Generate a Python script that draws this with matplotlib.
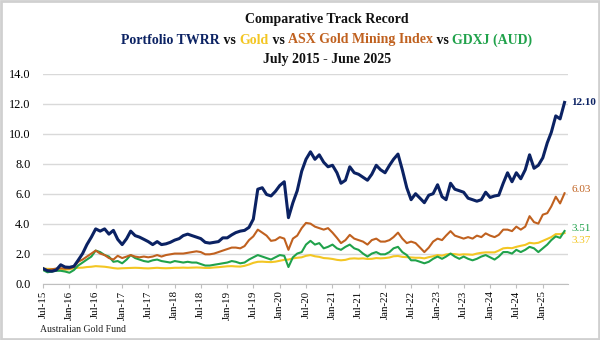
import matplotlib
matplotlib.use("Agg")
import matplotlib.pyplot as plt
import numpy as np
import pandas as pd

months = pd.date_range("2015-07-01", "2025-06-01", freq="MS")

portfolio = [
    1.00, 0.85, 0.82, 0.90, 1.25, 1.10,
    1.08, 1.15, 1.55, 2.00, 2.60, 3.10, 3.65, 3.50, 3.65, 3.30, 3.55, 2.95,
    2.60, 3.00, 3.50, 3.20, 3.10, 2.95, 2.80, 2.60, 2.80, 2.60, 2.65, 2.75,
    2.90, 3.00, 3.20, 3.30, 3.20, 3.10, 3.00, 2.75, 2.70, 2.75, 2.80, 3.05,
    3.05, 3.25, 3.40, 3.50, 3.55, 3.75, 4.30, 6.30, 6.40, 5.95, 5.85, 6.15,
    6.55, 6.80, 4.40, 5.40, 6.20, 7.50, 8.30, 8.80, 8.30, 8.60, 8.10, 7.80,
    7.90, 7.40, 6.70, 6.90, 7.80, 7.40, 7.30, 7.10, 6.90, 7.30, 7.90, 7.60,
    7.40, 7.90, 8.30, 8.65, 7.60, 6.40, 5.60, 6.00, 5.70, 5.40, 5.90, 6.00,
    6.60, 5.80, 5.60, 6.70, 6.30, 6.20, 6.10, 5.70, 5.60, 5.50, 5.60, 6.10,
    5.75, 5.85, 5.90, 6.70, 7.40, 6.80, 7.40, 7.00, 7.60, 8.60, 7.70, 7.90,
    8.40, 9.40, 10.10, 11.20, 11.00, 12.10,
]

asx = [
    0.95, 0.90, 0.95, 1.00, 1.02, 1.00,
    1.00, 1.10, 1.45, 1.60, 1.80, 2.00, 2.20, 2.00, 1.90, 1.70, 1.60, 1.85,
    1.70, 1.80, 1.90, 1.80, 1.75, 1.80, 1.75, 1.80, 1.90, 1.80, 1.90, 1.95,
    2.00, 2.00, 2.00, 2.05, 2.10, 2.15, 2.10, 1.95, 1.95, 2.00, 2.10, 2.20,
    2.30, 2.40, 2.40, 2.35, 2.50, 2.90, 3.15, 3.60, 3.40, 3.20, 2.85, 2.90,
    3.10, 3.00, 2.25, 3.00, 3.20, 3.70, 4.05, 4.00, 3.80, 3.70, 3.60, 3.70,
    3.40, 3.05, 2.70, 2.90, 3.25, 3.00, 2.90, 2.80, 2.60, 2.90, 3.00, 2.80,
    2.80, 2.90, 3.10, 3.40, 3.00, 2.70, 2.80, 2.70, 2.40, 2.10, 2.40, 2.80,
    3.00, 2.90, 3.20, 3.50, 3.20, 3.10, 3.00, 3.10, 3.00, 3.20, 3.10, 3.35,
    3.20, 3.10, 3.25, 3.60, 3.60, 3.50, 3.80, 3.60, 3.80, 4.50, 4.10, 4.00,
    4.60, 4.70, 5.15, 5.80, 5.35, 6.03,
]

gdxj = [
    0.90, 0.75, 0.80, 0.85, 0.85, 0.80,
    0.72, 0.90, 1.20, 1.40, 1.60, 1.80, 2.20, 2.10, 1.90, 1.80, 1.45, 1.50,
    1.35, 1.60, 1.90, 1.70, 1.60, 1.50, 1.45, 1.55, 1.60, 1.50, 1.45, 1.40,
    1.50, 1.45, 1.40, 1.45, 1.40, 1.40, 1.30, 1.20, 1.20, 1.25, 1.30, 1.35,
    1.40, 1.50, 1.45, 1.35, 1.40, 1.60, 1.75, 1.90, 1.80, 1.70, 1.60, 1.75,
    1.90, 1.85, 1.10, 1.75, 2.00, 2.10, 2.60, 2.85, 2.60, 2.70, 2.35, 2.45,
    2.60, 2.35, 2.25, 2.45, 2.60, 2.35, 2.25, 2.00, 1.80, 2.00, 2.10, 1.95,
    1.95, 2.10, 2.35, 2.45, 2.10, 1.90, 1.55, 1.55, 1.45, 1.35, 1.45, 1.65,
    1.80, 1.65, 1.80, 2.00, 1.80, 1.65, 1.80, 1.65, 1.55, 1.65, 1.80, 1.90,
    1.75, 1.60, 1.80, 2.10, 2.10, 2.00, 2.25, 2.10, 2.25, 2.45, 2.35, 2.10,
    2.35, 2.60, 2.90, 3.15, 3.05, 3.51,
]

gold = [
    1.00, 0.98, 0.97, 0.96, 0.93, 0.92,
    0.95, 1.02, 1.05, 1.06, 1.10, 1.12, 1.16, 1.14, 1.12, 1.08, 1.03, 1.00,
    1.02, 1.03, 1.04, 1.05, 1.04, 1.02, 1.01, 1.03, 1.05, 1.03, 1.02, 1.03,
    1.05, 1.05, 1.06, 1.05, 1.06, 1.07, 1.06, 1.04, 1.04, 1.07, 1.09, 1.12,
    1.15, 1.16, 1.14, 1.13, 1.18, 1.27, 1.38, 1.45, 1.46, 1.44, 1.43, 1.46,
    1.52, 1.58, 1.60, 1.68, 1.72, 1.75, 1.85, 1.90, 1.82, 1.78, 1.70, 1.68,
    1.64, 1.58, 1.55, 1.58, 1.66, 1.68, 1.66, 1.68, 1.64, 1.65, 1.70, 1.68,
    1.70, 1.74, 1.82, 1.84, 1.78, 1.76, 1.74, 1.72, 1.72, 1.68, 1.76, 1.82,
    1.90, 1.86, 1.94, 1.98, 1.96, 1.92, 1.95, 1.94, 1.92, 2.00, 2.05, 2.08,
    2.08, 2.08, 2.20, 2.35, 2.38, 2.36, 2.45, 2.52, 2.58, 2.72, 2.68, 2.72,
    2.85, 2.98, 3.10, 3.30, 3.30, 3.37,
]

end_labels = ["12.10", "6.03", "3.51", "3.37"]
y_ticks = [0, 2, 4, 6, 8, 10, 12, 14]

NAVY = "#0b2263"
ORANGE = "#c0611f"
GREEN = "#20a24b"
YELLOW = "#f3c623"
FONT = "Liberation Serif"

plt.rcParams["font.family"] = [FONT, "DejaVu Serif"]

fig = plt.figure(figsize=(6.0, 3.4), dpi=100)
ax = fig.add_axes([43 / 600, 1 - 283.5 / 340, 525 / 600, 209.5 / 340])

ax.plot(months, gold, color=YELLOW, lw=1.5, zorder=3)
ax.plot(months, gdxj, color=GREEN, lw=1.5, zorder=4)
ax.plot(months, asx, color=ORANGE, lw=1.5, zorder=4)
ax.plot(months, portfolio, color=NAVY, lw=2.2, zorder=5)

ax.set_ylim(0, 14)
ax.set_xlim(pd.Timestamp("2015-07-01"), pd.Timestamp("2025-06-25"))
ax.set_yticks(y_ticks)
ax.yaxis.set_major_formatter(matplotlib.ticker.FormatStrFormatter("%.1f"))
ax.grid(axis="y", color="#d9d9d9", lw=1.0)
ax.set_axisbelow(True)

xt = pd.date_range("2015-07-01", "2025-01-01", freq="6MS")
ax.set_xticks(xt)
ax.set_xticklabels([d.strftime("%b-%y") for d in xt], rotation=90)
ax.tick_params(axis="x", labelsize=7.8, length=3, color="#bfbfbf", pad=2)
ax.tick_params(axis="y", labelsize=8.8, length=0, pad=9)
for s in ["top", "right", "left"]:
    ax.spines[s].set_visible(False)
ax.spines["bottom"].set_color("#bfbfbf")

last = months[-1]
series_end = [portfolio[-1], asx[-1], gdxj[-1], gold[-1]]
colors = [NAVY, ORANGE, GREEN, YELLOW]
offs = [0, 2.5, 2.0, -5.0]
weights = ["bold", "normal", "normal", "normal"]
for lab, v, c, o, w in zip(end_labels, series_end, colors, offs, weights):
    ax.annotate(lab, xy=(last, v), xytext=(5, o), textcoords="offset points",
                color=c, fontsize=8, va="center", ha="left", fontweight=w)

# Title
fig.text(0.545, 1 - 20 / 340, "Comparative Track Record", ha="center", va="center",
         fontsize=10, fontweight="bold", color="#111111")
fig.text(0.545, 1 - 59 / 340, "July 2015 - June 2025", ha="center", va="center",
         fontsize=10, fontweight="bold", color="#111111")

parts = [("Portfolio TWRR", NAVY), (" vs ", "#111111"), ("Gold", YELLOW),
         (" vs ", "#111111"), ("ASX Gold Mining Index", ORANGE),
         (" vs ", "#111111"), ("GDXJ (AUD)", GREEN)]
texts = []
for s, c in parts:
    t = fig.text(0, 1 - 40 / 340, s, ha="left", va="center", fontsize=10,
                 fontweight="bold", color=c)
    texts.append(t)
fig.canvas.draw()
renderer = fig.canvas.get_renderer()
widths = [t.get_window_extent(renderer).width for t in texts]
total = sum(widths)
figw = fig.get_window_extent().width
x0 = 0.545 * figw - total / 2
for t, w in zip(texts, widths):
    t.set_x(x0 / figw)
    x0 += w

fig.text(40 / 600, 1 - 329 / 340, "Australian Gold Fund", ha="left", va="center",
         fontsize=7, color="#222222")

border = plt.Rectangle((0.002, 0.003), 0.996, 0.994, transform=fig.transFigure,
                       fill=False, edgecolor="#d0d0d0", lw=2)
fig.patches.append(border)

fig.savefig("out.png", dpi=100, facecolor="white")
